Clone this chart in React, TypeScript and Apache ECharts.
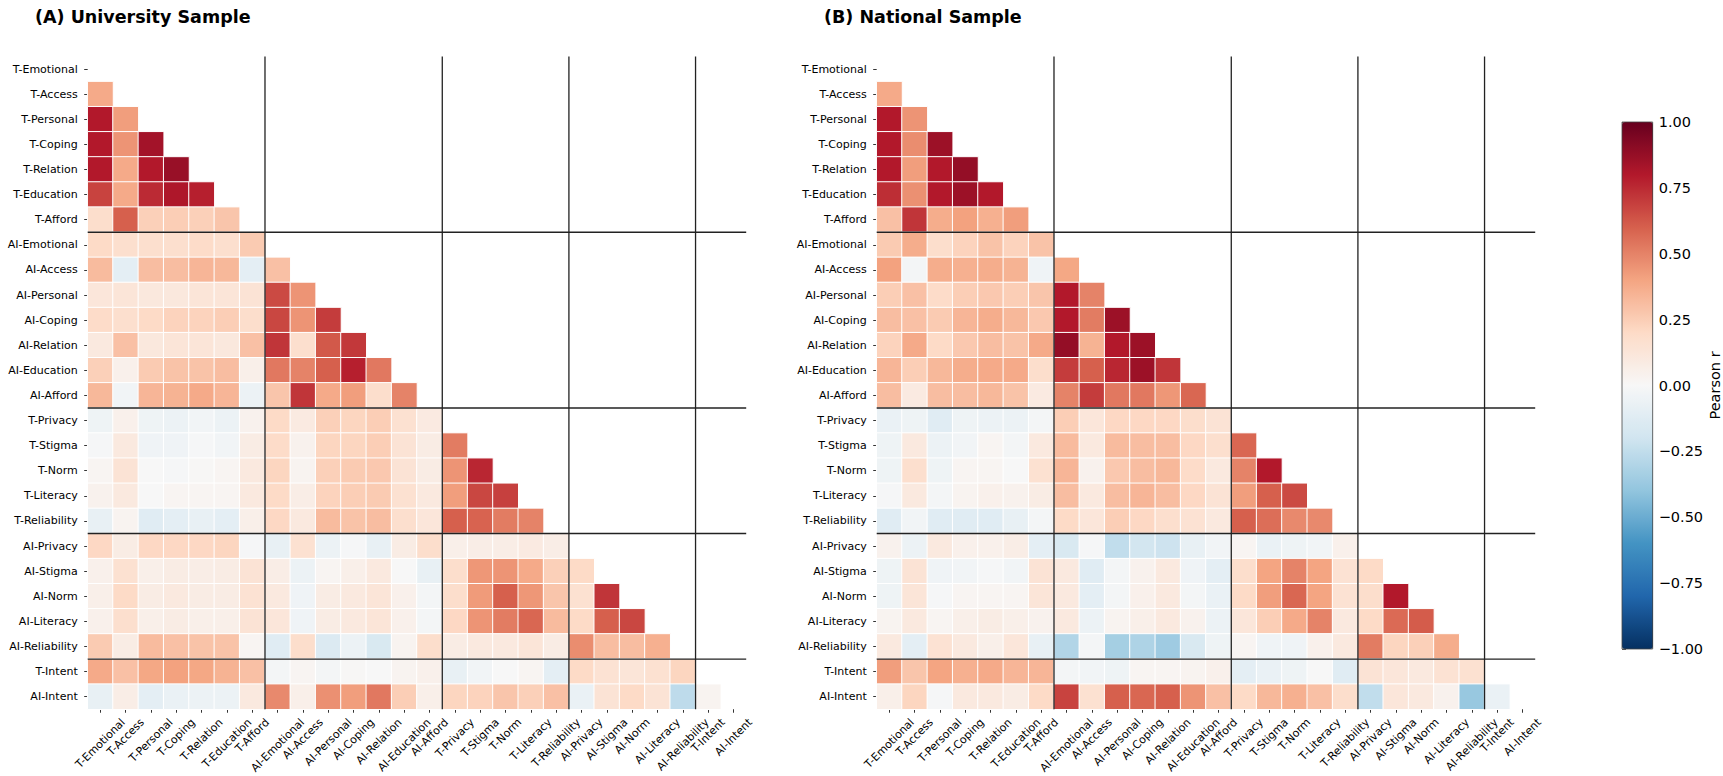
import React, { useEffect, useRef } from "react";
import * as echarts from "echarts";

const VARS = [
  "T-Emotional", "T-Access", "T-Personal", "T-Coping", "T-Relation", "T-Education", "T-Afford",
  "AI-Emotional", "AI-Access", "AI-Personal", "AI-Coping", "AI-Relation", "AI-Education", "AI-Afford",
  "T-Privacy", "T-Stigma", "T-Norm", "T-Literacy", "T-Reliability",
  "AI-Privacy", "AI-Stigma", "AI-Norm", "AI-Literacy", "AI-Reliability",
  "T-Intent", "AI-Intent",
];

const GROUP_BOUNDS = [7, 14, 19, 24];

// Lower-triangle correlations, row i holds columns 0..i-1
const UNIV_ROWS: number[][] = [
  [],
  [0.38],
  [0.8, 0.42],
  [0.8, 0.45, 0.84],
  [0.8, 0.38, 0.8, 0.87],
  [0.68, 0.38, 0.75, 0.81, 0.78],
  [0.18, 0.6, 0.24, 0.25, 0.24, 0.28],
  [0.2, 0.17, 0.17, 0.17, 0.19, 0.17, 0.26],
  [0.32, -0.1, 0.31, 0.31, 0.34, 0.33, -0.1, 0.3],
  [0.12, 0.13, 0.11, 0.11, 0.13, 0.13, 0.14, 0.66, 0.45],
  [0.19, 0.17, 0.2, 0.23, 0.23, 0.25, 0.18, 0.67, 0.45, 0.7],
  [0.1, 0.3, 0.11, 0.13, 0.13, 0.11, 0.3, 0.72, 0.17, 0.62, 0.71],
  [0.24, 0.05, 0.26, 0.29, 0.29, 0.31, 0.06, 0.53, 0.5, 0.6, 0.78, 0.53],
  [0.33, -0.03, 0.34, 0.35, 0.38, 0.34, -0.06, 0.28, 0.72, 0.38, 0.42, 0.18, 0.5],
  [-0.05, 0.05, -0.05, -0.06, -0.03, -0.06, 0.04, 0.2, 0.09, 0.24, 0.22, 0.25, 0.16, 0.09],
  [-0.01, 0.1, -0.04, -0.04, -0.01, -0.03, 0.08, 0.19, 0.04, 0.22, 0.22, 0.25, 0.14, 0.08, 0.52],
  [0.02, 0.14, 0.0, -0.01, 0.01, 0.02, 0.1, 0.22, 0.03, 0.24, 0.26, 0.27, 0.14, 0.08, 0.45, 0.76],
  [0.04, 0.1, 0.0, 0.02, 0.02, 0.02, 0.1, 0.2, 0.07, 0.23, 0.25, 0.26, 0.16, 0.1, 0.42, 0.67, 0.69],
  [-0.08, 0.03, -0.12, -0.1, -0.08, -0.1, 0.06, 0.21, 0.1, 0.32, 0.29, 0.31, 0.17, 0.12, 0.6, 0.59, 0.52, 0.5],
  [0.21, 0.08, 0.21, 0.21, 0.21, 0.22, -0.01, -0.08, 0.16, -0.06, -0.01, -0.08, 0.08, 0.18, 0.06, 0.07, 0.07, 0.09, 0.07],
  [0.05, 0.16, 0.06, 0.08, 0.07, 0.08, 0.14, 0.07, -0.06, 0.02, 0.06, 0.1, 0.0, -0.08, 0.18, 0.44, 0.45, 0.38, 0.24, 0.2],
  [0.06, 0.2, 0.08, 0.1, 0.08, 0.08, 0.15, 0.1, -0.04, 0.08, 0.1, 0.13, 0.05, -0.02, 0.18, 0.43, 0.6, 0.44, 0.28, 0.16, 0.72],
  [0.05, 0.17, 0.06, 0.08, 0.06, 0.06, 0.14, 0.12, -0.04, 0.08, 0.1, 0.13, 0.05, -0.02, 0.21, 0.45, 0.52, 0.58, 0.32, 0.2, 0.6, 0.67],
  [0.26, 0.08, 0.32, 0.3, 0.29, 0.29, 0.02, -0.12, 0.18, -0.14, -0.06, -0.16, 0.03, 0.18, 0.08, 0.1, 0.1, 0.13, 0.08, 0.47, 0.31, 0.31, 0.36],
  [0.38, 0.3, 0.39, 0.41, 0.39, 0.35, 0.3, -0.02, 0.02, -0.02, 0.01, 0.0, 0.03, 0.05, -0.08, -0.03, 0.0, 0.02, -0.1, 0.2, 0.15, 0.13, 0.16, 0.22],
  [-0.08, 0.07, -0.1, -0.07, -0.06, -0.06, 0.1, 0.48, 0.06, 0.46, 0.42, 0.53, 0.25, 0.06, 0.22, 0.23, 0.28, 0.24, 0.3, -0.07, 0.14, 0.2, 0.14, -0.26, 0.03],
];

const NAT_ROWS: number[][] = [
  [],
  [0.38],
  [0.8, 0.45],
  [0.8, 0.47, 0.86],
  [0.8, 0.42, 0.8, 0.88],
  [0.74, 0.46, 0.8, 0.86, 0.8],
  [0.3, 0.72, 0.37, 0.41, 0.36, 0.42],
  [0.26, 0.37, 0.18, 0.23, 0.29, 0.23, 0.29],
  [0.41, -0.02, 0.37, 0.36, 0.37, 0.35, -0.04, 0.39],
  [0.25, 0.3, 0.19, 0.25, 0.27, 0.25, 0.28, 0.8, 0.5],
  [0.31, 0.3, 0.26, 0.34, 0.37, 0.33, 0.27, 0.8, 0.52, 0.86],
  [0.23, 0.38, 0.2, 0.27, 0.31, 0.29, 0.38, 0.88, 0.35, 0.8, 0.86],
  [0.34, 0.25, 0.33, 0.37, 0.38, 0.38, 0.18, 0.7, 0.6, 0.76, 0.86, 0.72],
  [0.31, 0.09, 0.31, 0.31, 0.33, 0.29, 0.09, 0.5, 0.7, 0.53, 0.53, 0.44, 0.58],
  [-0.07, -0.05, -0.12, -0.05, -0.06, -0.06, -0.02, 0.25, 0.12, 0.21, 0.21, 0.21, 0.18, 0.14],
  [-0.05, 0.1, -0.06, -0.03, 0.02, -0.02, 0.1, 0.32, 0.1, 0.32, 0.31, 0.31, 0.21, 0.17, 0.58],
  [-0.05, 0.17, -0.05, 0.02, 0.02, 0.0, 0.16, 0.34, 0.04, 0.27, 0.31, 0.33, 0.19, 0.1, 0.5, 0.8],
  [-0.01, 0.1, -0.02, 0.03, 0.05, 0.04, 0.08, 0.31, 0.1, 0.31, 0.34, 0.31, 0.21, 0.14, 0.42, 0.6, 0.66],
  [-0.12, -0.03, -0.12, -0.12, -0.12, -0.08, -0.02, 0.2, 0.12, 0.25, 0.21, 0.17, 0.15, 0.1, 0.6, 0.56, 0.48, 0.48],
  [0.04, -0.06, 0.1, 0.05, 0.05, 0.07, -0.1, -0.16, -0.01, -0.25, -0.19, -0.21, -0.08, -0.03, 0.02, -0.07, -0.05, -0.03, 0.05],
  [-0.05, 0.14, -0.04, -0.03, -0.01, -0.03, 0.14, 0.1, -0.12, -0.02, 0.04, 0.1, -0.04, -0.1, 0.18, 0.4, 0.5, 0.4, 0.15, 0.2],
  [-0.05, 0.13, -0.01, 0.02, 0.02, 0.02, 0.13, 0.1, -0.1, -0.02, 0.05, 0.1, -0.02, -0.07, 0.2, 0.42, 0.58, 0.4, 0.15, 0.18, 0.8],
  [0.03, 0.1, 0.02, 0.06, 0.08, 0.06, 0.04, 0.1, -0.06, 0.03, 0.06, 0.1, 0.04, -0.06, 0.12, 0.25, 0.38, 0.5, 0.1, 0.2, 0.57, 0.61],
  [0.1, -0.1, 0.15, 0.1, 0.06, 0.12, -0.08, -0.3, -0.02, -0.34, -0.31, -0.36, -0.16, -0.05, 0.02, -0.04, -0.04, 0.05, 0.1, 0.52, 0.22, 0.24, 0.37],
  [0.42, 0.28, 0.4, 0.36, 0.38, 0.34, 0.34, -0.02, -0.03, -0.05, 0.02, 0.02, 0.03, 0.05, -0.1, -0.07, -0.05, 0.0, -0.12, 0.14, 0.12, 0.1, 0.15, 0.16],
  [0.06, 0.22, -0.01, 0.1, 0.1, 0.08, 0.2, 0.68, 0.16, 0.6, 0.58, 0.6, 0.45, 0.3, 0.2, 0.33, 0.36, 0.3, 0.18, -0.25, 0.12, 0.1, 0.04, -0.38, -0.07],
];

const PANEL_TITLES = ["(A) University Sample", "(B) National Sample"];
const COLORBAR_LABEL = "Pearson r";
const RDBU_R = [
  "#053061", "#2166ac", "#4393c3", "#92c5de", "#d1e5f0", "#f7f7f7",
  "#fddbc7", "#f4a582", "#d6604d", "#b2182b", "#67001f",
];

const FONT = "DejaVu Sans";
const TICK_FS = 11;
const PANEL_LEFTS = [87.7, 876.7];
const PANEL_TOP = 56.5;
const PANEL_SIZE = 658.5;

function toCells(rows: number[][]) {
  const out: [number, number, number][] = [];
  rows.forEach((r, i) => r.forEach((v, j) => out.push([j, i, v])));
  return out;
}

function buildRich() {
  const canvas = document.createElement("canvas");
  const ctx = canvas.getContext("2d")!;
  ctx.font = `${TICK_FS}px "${FONT}"`;
  const rich: Record<string, any> = {};
  VARS.forEach((v, k) => {
    const w = ctx.measureText(v).width;
    const p = (w + 12) / 2;
    rich["l" + k] = {
      fontSize: TICK_FS,
      fontFamily: FONT,
      color: "#000",
      lineHeight: 12,
      padding: [p, p, 0, 0],
    };
  });
  return rich;
}

export default function App() {
  const ref = useRef<HTMLDivElement>(null);

  useEffect(() => {
    document.body.style.margin = "0";
    if (!ref.current) return;
    const chart = echarts.init(ref.current, undefined, { renderer: "svg" });
    const rich = buildRich();

    const grids: any[] = [];
    const xAxes: any[] = [];
    const yAxes: any[] = [];
    const series: any[] = [];
    const datasets = [UNIV_ROWS, NAT_ROWS];

    datasets.forEach((rows, k) => {
      grids.push({
        left: PANEL_LEFTS[k],
        top: PANEL_TOP,
        width: PANEL_SIZE,
        height: PANEL_SIZE,
        containLabel: false,
      });
      xAxes.push({
        type: "category",
        gridIndex: k,
        data: VARS,
        axisLine: { show: false },
        axisTick: { show: true, alignWithLabel: true, interval: 0, length: 3.5, lineStyle: { color: "#000", width: 0.8 } },
        axisLabel: {
          interval: 0,
          rotate: 45,
          align: "center",
          verticalAlign: "middle",
          margin: 7,
          formatter: (val: string, idx: number) => `{l${idx}|${val}}`,
          rich,
        },
        splitLine: { show: false },
      });
      yAxes.push({
        type: "category",
        gridIndex: k,
        data: VARS,
        inverse: true,
        axisLine: { show: false },
        axisTick: { show: true, alignWithLabel: true, interval: 0, length: 3.5, lineStyle: { color: "#000", width: 0.8 } },
        axisLabel: { interval: 0, margin: 10, fontSize: TICK_FS, fontFamily: FONT, color: "#000" },
        splitLine: { show: false },
      });
      series.push({
        type: "heatmap",
        xAxisIndex: k,
        yAxisIndex: k,
        data: toCells(rows),
        itemStyle: { borderColor: "#fff", borderWidth: 1 },
        emphasis: { disabled: true },
        silent: true,
      });
    });

    datasets.forEach((_, k) => {
      series.push({
        type: "custom",
        xAxisIndex: k,
        yAxisIndex: k,
        data: [[0, 0]],
        silent: true,
        z: 10,
        renderItem: (_params: any, api: any) => {
          const c = api.coord([0, 0]);
          const s = api.size([1, 1]);
          const left = c[0] - s[0] / 2;
          const top = c[1] - s[1] / 2;
          const W = s[0] * VARS.length;
          const H = s[1] * VARS.length;
          const children: any[] = [];
          GROUP_BOUNDS.forEach((b) => {
            children.push({
              type: "line",
              shape: { x1: left + b * s[0], y1: top, x2: left + b * s[0], y2: top + H },
              style: { stroke: "#222", lineWidth: 1.3 },
            });
            children.push({
              type: "line",
              shape: { x1: left, y1: top + b * s[1], x2: left + W, y2: top + b * s[1] },
              style: { stroke: "#222", lineWidth: 1.3 },
            });
          });
          return { type: "group", children };
        },
      });
    });

    // colorbar axis
    grids.push({
      left: 1622,
      top: 122,
      width: 31,
      height: 527,
      show: true,
      borderColor: "#444",
      borderWidth: 0.8,
      backgroundColor: "transparent",
      z: 6,
    });
    xAxes.push({ type: "value", gridIndex: 2, show: false, min: 0, max: 1 });
    yAxes.push({
      type: "value",
      gridIndex: 2,
      min: -1,
      max: 1,
      interval: 0.25,
      position: "right",
      axisLine: { show: false },
      axisTick: { show: true, length: 4, lineStyle: { color: "#333", width: 0.8 } },
      axisLabel: {
        margin: 6,
        fontSize: 14.5,
        fontFamily: FONT,
        color: "#000",
        formatter: (v: number) => v.toFixed(2).replace("-", "\u2212"),
      },
      splitLine: { show: false },
      name: COLORBAR_LABEL,
      nameLocation: "middle",
      nameRotate: 90,
      nameGap: 54,
      nameTextStyle: { fontSize: 14.5, fontFamily: FONT, color: "#000" },
    });

    chart.setOption({
      animation: false,
      backgroundColor: "#fff",
      title: [
        { text: PANEL_TITLES[0], left: 35, top: 8, padding: 0, textStyle: { fontSize: 17.5, fontWeight: "bold", fontFamily: FONT, color: "#000" } },
        { text: PANEL_TITLES[1], left: 824, top: 8, padding: 0, textStyle: { fontSize: 17.5, fontWeight: "bold", fontFamily: FONT, color: "#000" } },
      ],
      grid: grids,
      xAxis: xAxes,
      yAxis: yAxes,
      visualMap: {
        type: "continuous",
        min: -1,
        max: 1,
        seriesIndex: [0, 1],
        dimension: 2,
        calculable: false,
        show: true,
        orient: "vertical",
        left: 1622,
        top: 122,
        itemWidth: 31,
        itemHeight: 527,
        padding: 0,
        text: undefined,
        inRange: { color: RDBU_R },
      },
      series,
    });

    return () => chart.dispose();
  }, []);

  return <div ref={ref} style={{ width: 1723, height: 776 }} />;
}
